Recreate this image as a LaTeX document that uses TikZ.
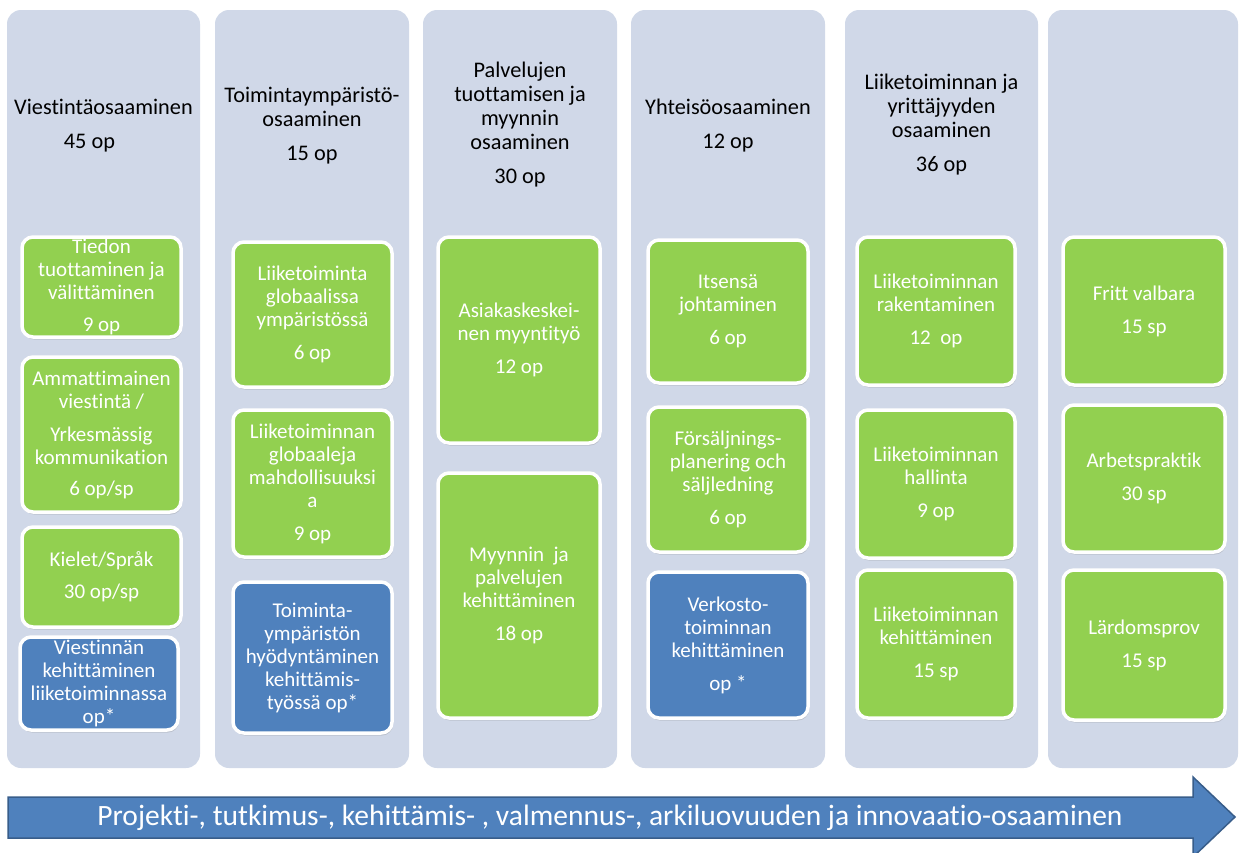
\documentclass[tikz,border=0pt]{standalone}
\usepackage{fontspec}
\setmainfont{Carlito}[Ligatures=NoCommon]
\usetikzlibrary{shadows}
\definecolor{lanegray}{HTML}{D0D8E8}
\definecolor{okgreen}{HTML}{92D050}
\definecolor{okblue}{HTML}{4F81BD}
\definecolor{okblueedge}{HTML}{385D8A}

\begin{document}
\begin{tikzpicture}[x=1pt,y=-1pt,>=latex,
  lane/.style={fill=lanegray, rounded corners=14pt, inner sep=0pt, outer sep=0pt},
  heading/.style={align=center, text=black, font=\fontsize{22.3}{24}\selectfont},
  module/.style={draw=white, line width=3.5pt, rounded corners=11pt, align=center, text=white, inner sep=0pt,
    font=\fontsize{21}{23}\selectfont, drop shadow={shadow xshift=1pt, shadow yshift=-2.5pt, opacity=0.25}},
  greenbox/.style={module, fill=okgreen},
  bluebox/.style={module, fill=okblue}]
\useasboundingbox (0,0) rectangle (1239,852);

\node[name=lane_1, lane, minimum width=193, minimum height=758] at (103.5,389) {};
\node[name=lane_2, lane, minimum width=194, minimum height=758] at (312,389) {};
\node[name=lane_3, lane, minimum width=194, minimum height=758] at (520,389) {};
\node[name=lane_4, lane, minimum width=194, minimum height=758] at (728,389) {};
\node[name=lane_5, lane, minimum width=193, minimum height=758] at (941.5,389) {};
\node[name=lane_6, lane, minimum width=190, minimum height=758] at (1143,389) {};

\node[name=lane_1_head, heading] at (103.5,125.5) {Viestintäosaaminen\\[10pt]45 op\hspace*{28pt}};
\node[name=lane_2_head, heading] at (312,126) {Toimintaympäristö-\\osaaminen\\[10pt]15 op};
\node[name=lane_3_head, heading] at (520,125) {Palvelujen\\tuottamisen ja\\myynnin\\osaaminen\\[10pt]30 op};
\node[name=lane_4_head, heading] at (728,125.5) {Yhteisöosaaminen\\[10pt]12 op};
\node[name=lane_5_head, heading] at (941.5,125) {Liiketoiminnan ja\\yrittäjyyden\\osaaminen\\[10pt]36 op};

\node[name=lane_1_box_1, greenbox, minimum width=159, minimum height=100] at (101.5,287) {Tiedon\\tuottaminen ja\\välittäminen\\[9pt]9 op};
\node[name=lane_1_box_2, greenbox, minimum width=159, minimum height=155] at (101.5,434.5) {Ammattimainen\\viestintä /\\[10pt]Yrkesmässig\\kommunikation\\[8pt]6 op/sp};
\node[name=lane_1_box_3, greenbox, minimum width=159, minimum height=100] at (101.5,577) {Kielet/Språk\\[9pt]30 op/sp};
\node[name=lane_1_box_4, bluebox, minimum width=158, minimum height=93] at (99,683.5) {Viestinnän\\kehittäminen\\liiketoiminnassa\\op*};

\node[name=lane_2_box_1, greenbox, minimum width=159, minimum height=145] at (312.5,314.5) {Liiketoiminta\\globaalissa\\ympäristössä\\[10pt]6 op};
\node[name=lane_2_box_2, greenbox, minimum width=159, minimum height=147] at (312.5,483.5) {Liiketoiminnan\\globaaleja\\mahdollisuuksi\\a\\[10pt]9 op};
\node[name=lane_2_box_3, bluebox, minimum width=159, minimum height=151] at (312.5,657.5) {Toiminta-\\ympäristön\\hyödyntäminen\\kehittämis-\\työssä op*};

\node[name=lane_3_box_1, greenbox, minimum width=162, minimum height=206] at (519,340) {Asiakaskeskei-\\nen myyntityö\\[10pt]12 op};
\node[name=lane_3_box_2, greenbox, minimum width=162, minimum height=245] at (519,595.5) {Myynnin\ \ ja\\palvelujen\\kehittäminen\\[10pt]18 op};

\node[name=lane_4_box_1, greenbox, minimum width=160, minimum height=143] at (728,311.5) {Itsensä\\johtaminen\\[10pt]6 op};
\node[name=lane_4_box_2, greenbox, minimum width=160, minimum height=145] at (728,479.5) {Försäljnings-\\planering och\\säljledning\\[10pt]6 op};
\node[name=lane_4_box_3, bluebox, minimum width=160, minimum height=146] at (728,645) {Verkosto-\\toiminnan\\kehittäminen\\[10pt]op *};

\node[name=lane_5_box_1, greenbox, minimum width=158, minimum height=148] at (936,311) {Liiketoiminnan\\rakentaminen\\[10pt]12\ \ op};
\node[name=lane_5_box_2, greenbox, minimum width=158, minimum height=148] at (936,484) {Liiketoiminnan\\hallinta\\[10pt]9 op};
\node[name=lane_5_box_3, greenbox, minimum width=158, minimum height=148] at (936,644) {Liiketoiminnan\\kehittäminen\\[10pt]15 sp};

\node[name=lane_6_box_1, greenbox, minimum width=162, minimum height=148] at (1144,311) {Fritt valbara\\[10pt]15 sp};
\node[name=lane_6_box_2, greenbox, minimum width=162, minimum height=147] at (1144,478.5) {Arbetspraktik\\[10pt]30 sp};
\node[name=lane_6_box_3, greenbox, minimum width=162, minimum height=150] at (1144,645) {Lärdomsprov\\[10pt]15 sp};

\draw[fill=okblue, draw=okblueedge, line width=1.5pt] (8,797) -- (1193,797) -- (1193,777) -- (1235,817) -- (1193,857) -- (1193,838) -- (8,838) -- cycle;
\node[name=track, text=white, font=\fontsize{29.5}{31}\selectfont] at (610,818) {Projekti-, tutkimus-, kehittämis- , valmennus-, arkiluovuuden ja innovaatio-osaaminen};
\end{tikzpicture}
\end{document}
